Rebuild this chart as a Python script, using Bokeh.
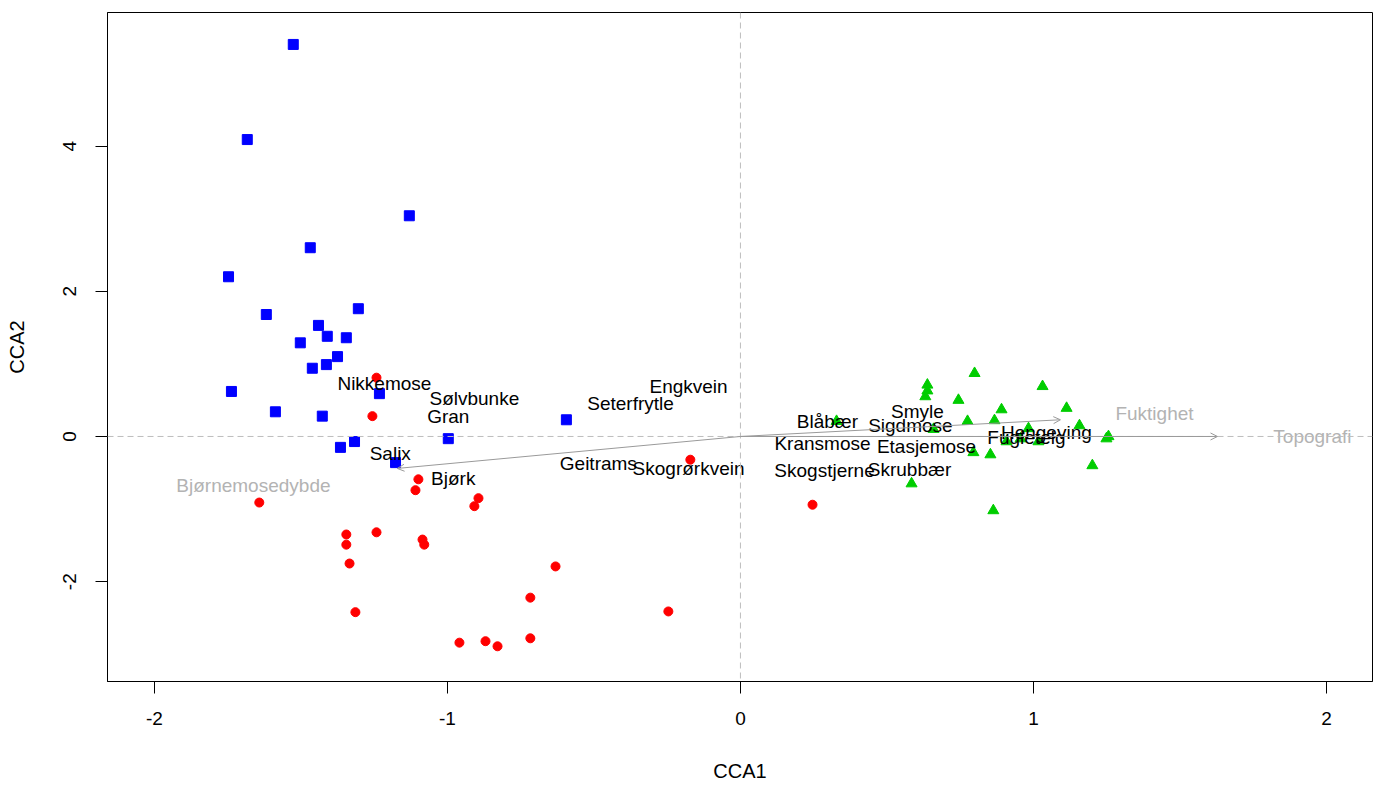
from bokeh.plotting import figure
from bokeh.models import ColumnDataSource, Span, Arrow, OpenHead, FixedTicker
from bokeh.core.properties import value
from bokeh.embed import file_html
from bokeh.resources import INLINE

# Site scores, group 1 (blue squares)
blue_x = [-1.526, -1.683, -1.130, -1.468, -1.747, -1.618, -1.304, -1.440, -1.502, -1.410,
          -1.345, -1.375, -1.413, -1.461, -1.232, -1.737, -1.587, -1.427, -1.317, -1.365,
          -1.177, -0.997, -0.594]
blue_y = [5.40, 4.09, 3.04, 2.60, 2.20, 1.68, 1.76, 1.53, 1.29, 1.38,
          1.36, 1.10, 0.99, 0.94, 0.59, 0.62, 0.34, 0.28, -0.07, -0.15,
          -0.36, -0.03, 0.23]

# Site scores, group 2 (red circles)
red_x = [-1.242, -1.256, -1.642, -1.099, -1.109, -0.894, -0.908, -1.345, -1.345, -1.242,
         -1.085, -1.079, -1.334, -0.631, -0.717, -1.314, -0.246, -0.959, -0.870, -0.829,
         -0.717, -0.171, 0.246]
red_y = [0.81, 0.28, -0.91, -0.59, -0.74, -0.85, -0.96, -1.35, -1.49, -1.32,
         -1.42, -1.49, -1.75, -1.79, -2.22, -2.42, -2.41, -2.84, -2.82, -2.89,
         -2.78, -0.32, -0.94]

# Site scores, group 3 (green triangles)
green_x = [0.799, 0.638, 0.638, 0.631, 0.744, 1.031, 0.891, 1.113, 0.775, 0.867,
           1.157, 1.256, 1.249, 0.659, 0.795, 0.853, 1.201, 0.584, 0.863, 0.328,
           0.983, 0.908, 0.956, 1.017]
green_y = [0.87, 0.71, 0.63, 0.55, 0.50, 0.69, 0.37, 0.39, 0.21, 0.22,
           0.15, 0.00, -0.03, 0.10, -0.22, -0.25, -0.40, -0.65, -1.02, 0.21,
           0.11, -0.07, -0.03, -0.07]

# Species scores (labels)
species = ["Nikkemose", "Sølvbunke", "Gran", "Engkvein", "Seterfrytle", "Salix", "Bjørk",
           "Geitrams", "Skogrørkvein", "Blåbær", "Smyle", "Sigdmose", "Kransmose",
           "Etasjemose", "Skogstjerne", "Skrubbær", "Hengeving", "Fugletelg"]
species_x = [-1.215, -0.908, -0.997, -0.177, -0.375, -1.195, -0.980,
             -0.485, -0.177, 0.297, 0.604, 0.580, 0.280,
             0.635, 0.287, 0.577, 1.044, 0.976]
species_y = [0.73, 0.52, 0.28, 0.69, 0.45, -0.23, -0.58,
             -0.37, -0.44, 0.21, 0.34, 0.15, -0.10,
             -0.14, -0.47, -0.45, 0.06, -0.01]

# Environmental vectors
env = ["Bjørnemosedybde", "Fuktighet", "Topografi"]
env_x = [-1.171, 1.092, 1.628]
env_y = [-0.44, 0.23, 0.00]
env_label_x = [-1.662, 1.413, 1.952]
env_label_y = [-0.67, 0.32, 0.00]

x_ticks = [-2, -1, 0, 1, 2]
y_ticks = [-2, 0, 2, 4]

FONT = "Liberation Sans"

p = figure(width=1378, height=785, output_backend="svg", toolbar_location=None,
           x_range=(-2.160, 2.157), y_range=(-3.375, 5.84),
           min_border_left=107, min_border_right=6, min_border_top=12, min_border_bottom=104,
           x_axis_label="CCA1", y_axis_label="CCA2")

p.grid.visible = False
p.outline_line_color = "black"
p.outline_line_width = 1
p.background_fill_color = "white"
p.border_fill_color = "white"

for ax in (p.xaxis[0], p.yaxis[0]):
    ax.major_tick_out = 12
    ax.major_tick_in = 0
    ax.minor_tick_line_color = None
    ax.axis_line_color = "black"
    ax.major_tick_line_color = "black"
    ax.major_label_text_font = FONT
    ax.major_label_text_font_size = "19px"
    ax.major_label_text_color = "black"
    ax.axis_label_text_font = FONT
    ax.axis_label_text_font_size = "20px"
    ax.axis_label_text_font_style = "normal"
    ax.axis_label_text_color = "black"

p.xaxis.major_label_standoff = 18
p.xaxis.axis_label_standoff = 32
p.yaxis.major_label_standoff = 19
p.yaxis.axis_label_standoff = 33

p.xaxis.ticker = FixedTicker(ticks=x_ticks)
p.yaxis.ticker = FixedTicker(ticks=y_ticks)
p.xaxis.major_label_overrides = {t: str(t) for t in x_ticks}
p.yaxis.major_label_overrides = {t: str(t) for t in y_ticks}
p.yaxis.major_label_orientation = "vertical"

# zero lines
p.add_layout(Span(location=0, dimension="width", line_color="#bebebe", line_dash="6 4", line_width=1))
p.add_layout(Span(location=0, dimension="height", line_color="#bebebe", line_dash="6 4", line_width=1))

# points
p.scatter(blue_x, blue_y, marker="square", size=10, fill_color="#0000ff", line_color="#0000ff")
p.scatter(red_x, red_y, marker="circle", size=9, fill_color="#ff0000", line_color="#ff0000")
p.scatter(green_x, green_y, marker="triangle", size=11, fill_color="#00cd00", line_color="#00cd00")

# arrows
arrow_src = ColumnDataSource(dict(x0=[0] * len(env), y0=[0] * len(env), x1=env_x, y1=env_y))
p.add_layout(Arrow(end=OpenHead(size=7, line_color="#9a9a9a", line_width=1),
                   source=arrow_src, x_start="x0", y_start="y0", x_end="x1", y_end="y1",
                   line_color="#9a9a9a", line_width=1))

# env labels
env_src = ColumnDataSource(dict(x=env_label_x, y=env_label_y, t=env))
p.text(x="x", y="y", text="t", source=env_src, text_align="center", text_baseline="middle",
       text_font=value(FONT), text_font_size="19px", text_color="#b3b3b3")

# species labels
sp_src = ColumnDataSource(dict(x=species_x, y=species_y, t=species))
p.text(x="x", y="y", text="t", source=sp_src, text_align="center", text_baseline="middle",
       text_font=value(FONT), text_font_size="19px", text_color="black")

open("out.html", "w").write(file_html(p, INLINE))
